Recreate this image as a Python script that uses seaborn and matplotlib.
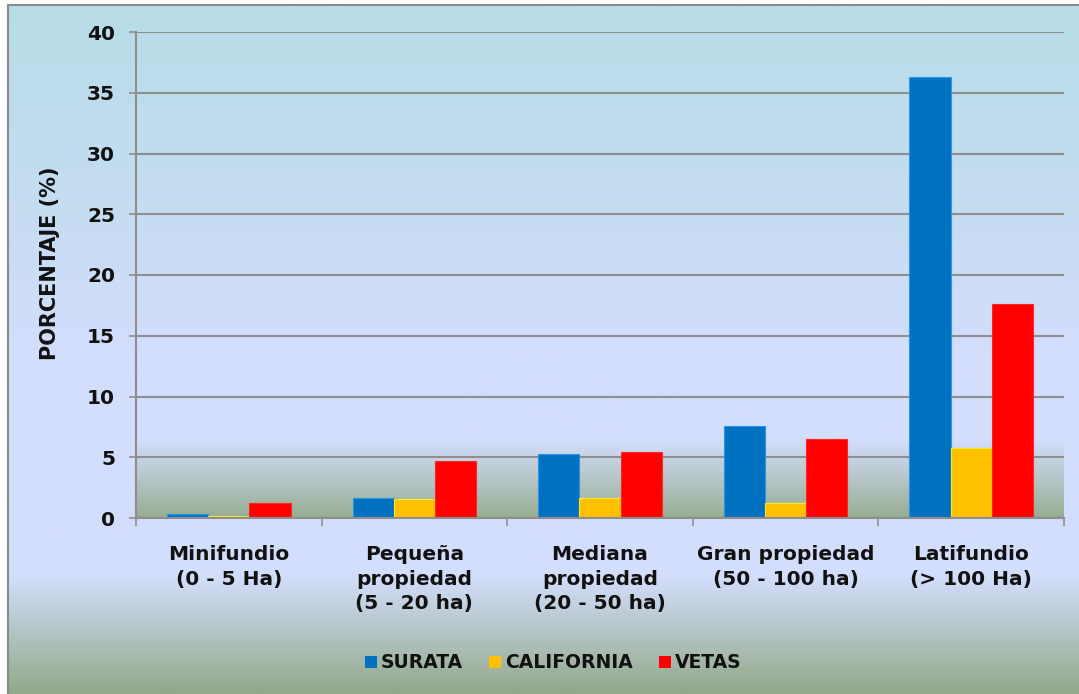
import numpy as np
import pandas as pd
import matplotlib
matplotlib.use("Agg")
import matplotlib.pyplot as plt
from matplotlib.colors import LinearSegmentedColormap, to_rgb
import seaborn as sns

categories = ["Minifundio\n(0 - 5 Ha)", "Pequeña\npropiedad\n(5 - 20 ha)",
              "Mediana\npropiedad\n(20 - 50 ha)", "Gran propiedad\n(50 - 100 ha)",
              "Latifundio\n(> 100 Ha)"]
series = ["SURATA", "CALIFORNIA", "VETAS"]
surata = [0.3, 1.62, 5.27, 7.57, 36.3]
california = [0.19, 1.54, 1.62, 1.23, 5.76]
vetas = [1.26, 4.69, 5.46, 6.5, 17.6]
yticks = [0, 5, 10, 15, 20, 25, 30, 35, 40]
colors = ["#0070C0", "#FFC000", "#FF0000"]

df = pd.DataFrame({
    "cat": categories * 3,
    "serie": [s for s in series for _ in categories],
    "val": surata + california + vetas,
})

sns.set_theme(style="white")
plt.rcParams['font.family'] = ['DejaVu Sans']

W, H = 1079, 694
fig = plt.figure(figsize=(W / 100, H / 100), dpi=100, facecolor="white")

# background gradient (figure)
bg = fig.add_axes([8 / W, 0, 1 - 8 / W, 1 - 5 / H], zorder=-10)
stops = [(0.0, "#B7DDE7"), (0.30, "#C6DCF2"), (0.50, "#D3DEFC"),
         (0.83, "#D3DEFC"), (1.0, "#93A98A")]
cmap_bg = LinearSegmentedColormap.from_list("bg", stops)
grad = np.linspace(0, 1, 400).reshape(-1, 1)
bg.imshow(grad, aspect="auto", cmap=cmap_bg, extent=[0, 1, 0, 1], origin="upper")
bg.set_xlim(0, 1); bg.set_ylim(0, 1)
bg.axis("off")
fig.add_artist(plt.Line2D([8 / W, 8 / W], [0, 1 - 5 / H], color="#8A8A8A", lw=1.5, transform=fig.transFigure))
fig.add_artist(plt.Line2D([8 / W, 1], [1 - 5 / H, 1 - 5 / H], color="#8A8A8A", lw=1.5, transform=fig.transFigure))

ax = fig.add_axes([136 / W, (H - 518) / H, (1064 - 136) / W, 486 / H])
ax.set_facecolor("none")

sns.barplot(data=df, x="cat", y="val", hue="serie", palette=colors, saturation=1,
            width=0.667, ax=ax, zorder=3, edgecolor="none", linewidth=0)
for patch, c in zip(ax.patches, [c for c in colors for _ in categories]):
    r, g, b = to_rgb(c)
    patch.set_edgecolor((min(1, r + 0.15), min(1, g + 0.15), min(1, b + 0.15)))
    patch.set_linewidth(0.8)

ax.set_xlim(-0.5, 4.5)
ax.set_ylim(0, 40)

# plot area lower gradient
cmap_pa = LinearSegmentedColormap.from_list("pa", [(0, "#D3DEFC"), (1, "#97AD92")])
ax.imshow(grad, aspect="auto", cmap=cmap_pa, extent=[-0.5, 4.5, 0, 6.4],
          origin="upper", zorder=0.5)
ax.set_xlim(-0.5, 4.5)
ax.set_ylim(0, 40)

ax.set_yticks(yticks)
ax.yaxis.grid(True, color="#8E8E8E", lw=1.5, zorder=1)
ax.set_axisbelow(False)
for gl in ax.get_ygridlines():
    gl.set_zorder(1)

for s in ["top", "right"]:
    ax.spines[s].set_visible(False)
for s in ["left", "bottom"]:
    ax.spines[s].set_color("#8E8E8E")
    ax.spines[s].set_linewidth(1.5)
    ax.spines[s].set_zorder(4)

ax.tick_params(axis="y", which="major", length=5, width=1.2, color="#8E8E8E",
               pad=10, labelsize=14.5, left=True)
for t in ax.get_yticklabels():
    t.set_fontweight("bold")
    t.set_color("#111111")

ax.set_xticks(range(len(categories)))
ax.set_xticklabels(categories, fontsize=14.5, fontweight="bold", color="#111111",
                   linespacing=1.38)
ax.tick_params(axis="x", which="major", length=0, pad=19.5)
ax.set_xticks([i - 0.5 for i in range(len(categories) + 1)], minor=True)
ax.tick_params(axis="x", which="minor", length=6, width=1.2, color="#8E8E8E", bottom=True)

ax.set_xlabel("")
ax.set_ylabel("PORCENTAJE (%)", fontsize=15, fontweight="bold", color="#111111")
ax.yaxis.set_label_coords(-0.082, 0.525)

leg = ax.legend(loc="center", bbox_to_anchor=(553 / W, 1 - 663 / H),
                bbox_transform=fig.transFigure, ncol=3, frameon=False,
                handlelength=0.65, handleheight=0.65, handletextpad=0.2,
                columnspacing=1.4, prop={"weight": "bold", "size": 13.5})
for t in leg.get_texts():
    t.set_color("#111111")

fig.savefig("out.png", dpi=100, facecolor="white")
